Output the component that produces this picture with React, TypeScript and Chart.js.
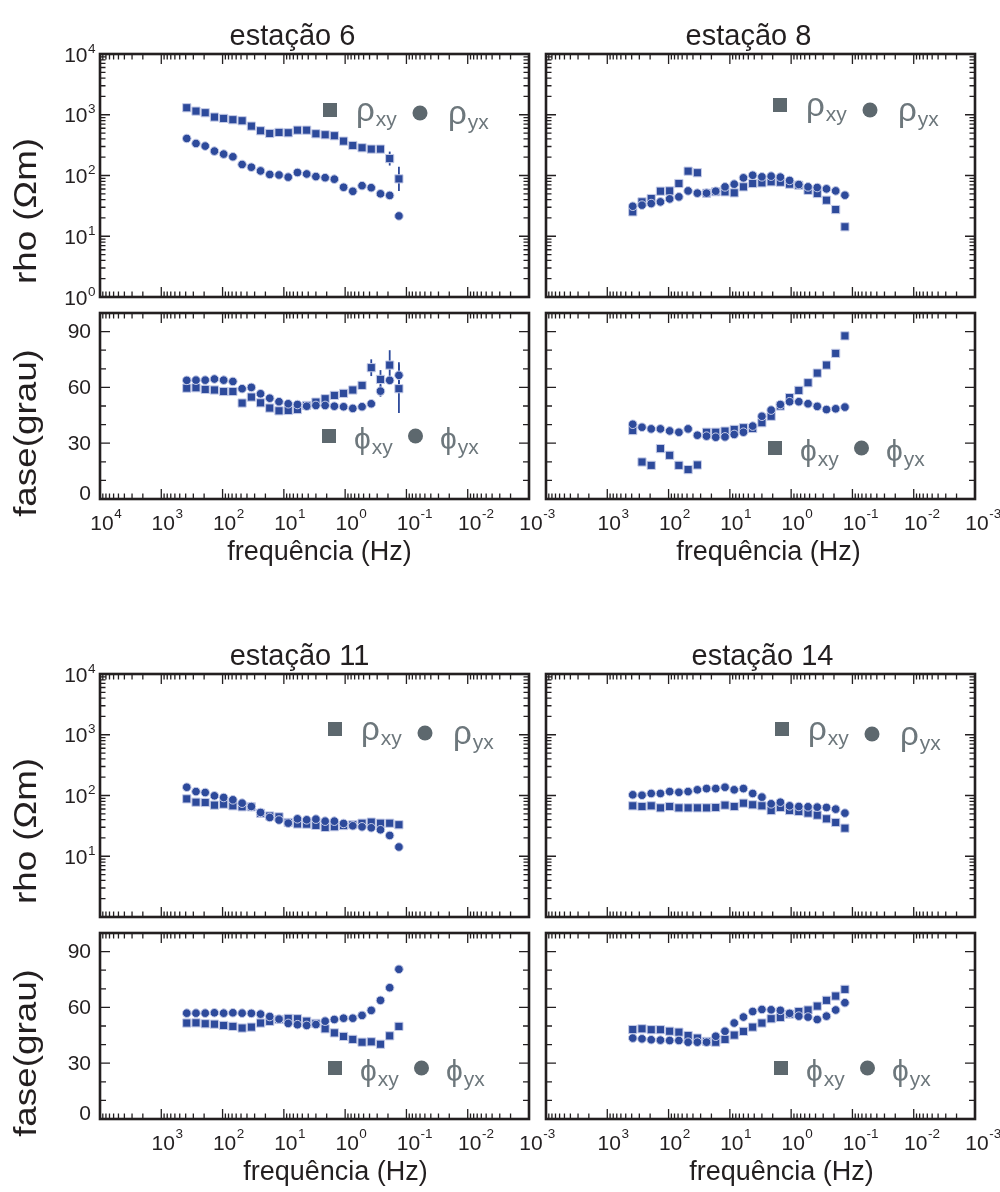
import React, { useEffect, useRef } from "react";
import { Chart, registerables } from "chart.js";

Chart.register(...registerables);

const PAGE_W = 1000;
const PAGE_H = 1192;
const FONT = '"Liberation Sans", Arial, Helvetica, sans-serif';
const INK = "#231f20";
const MARK = "#2d4a9b";
const MARK_EDGE = "#c7cde8";
const LEG_MARK = "#5d686e";
const LEG_TEXT = "#6d777c";

// ---------- data ----------
const freqs = [384, 271.5, 192, 135.8, 96, 67.9, 48, 33.9, 24, 17, 12, 8.49, 6, 4.24, 3, 2.12, 1.5, 1.06, 0.75, 0.53, 0.375, 0.265, 0.1875, 0.1326];

const xTickExps = [4, 3, 2, 1, 0, -1, -2, -3];
const rhoTickExps = [0, 1, 2, 3, 4];
const phaseTickLabels = [0, 30, 60, 90];

// estação 6
const st6RhoXY = [1303, 1148, 1079, 916, 871, 828, 796, 650, 545, 492, 512, 505, 558, 558, 486, 468, 451, 368, 312, 286, 272, 272, 190, 88];
const st6RhoYX = [407, 337, 305, 252, 225, 203, 152, 137, 119, 104, 102, 94, 112, 106, 96, 92, 87, 64, 55, 68, 63, 50, 47, 21.6];
const st6RhoXYErr = [0, 0, 0, 0, 0, 0, 0, 0, 0, 0, 0, 0, 0, 0, 0, 0, 0, 0, 0, 0, 0, 0, 0.115, 0.2];
const st6PhiXY = [59.6, 59.8, 58.9, 58.6, 57.8, 57.8, 51.6, 54.8, 51.7, 48.9, 47.4, 47.6, 48.1, 50.3, 52.1, 53.9, 55.7, 56.8, 58.6, 61.1, 70.6, 64.3, 72.0, 59.3];
const st6PhiYX = [63.8, 63.9, 63.9, 64.5, 63.9, 63.2, 59.3, 60.0, 56.6, 54.2, 52.3, 51.2, 50.8, 49.9, 50.3, 50.3, 49.9, 49.6, 48.7, 49.6, 51.2, 58.0, 63.8, 66.5];
const st6PhiXYErr = [0, 0, 0, 0, 0, 0, 0, 0, 0, 0, 0, 0, 0, 0, 0, 0, 0, 0, 0, 0, 4.5, 5, 8, 13];
const st6PhiYXErr = [0, 0, 0, 0, 0, 0, 0, 0, 0, 0, 0, 0, 0, 0, 0, 0, 0, 0, 0, 0, 0, 3, 0, 7];

// estação 8
const st8RhoXY = [25.2, 36.8, 41.8, 55.2, 55.8, 73.8, 118, 111, 51, 54, 53.8, 51.8, 65, 73.8, 75.7, 78.7, 77.6, 72, 69, 57, 50.5, 39.2, 27.5, 14.3];
const st8RhoYX = [31.2, 32.5, 34.5, 36.8, 41.2, 44.5, 55.8, 51.2, 51.2, 55.2, 65, 72, 91.5, 101, 95, 97.5, 94, 82.8, 71, 65, 63.4, 60.3, 55.8, 47.4];
const st8PhiXY = [36.8, 19.9, 18.1, 27.1, 23.5, 18.1, 15.8, 18.3, 35.9, 35.9, 36.5, 37.4, 38.3, 37.9, 41.0, 44.5, 50, 54.5, 58.4, 62.5, 67.7, 72.0, 78.3, 87.7];
const st8PhiYX = [40.2, 38.6, 37.7, 37.7, 36.6, 35.9, 37.7, 34.3, 33.8, 33.2, 33.4, 34.7, 35.9, 39.2, 44.5, 47.8, 50.8, 52.3, 52.3, 51.2, 49.8, 48.1, 48.5, 49.4];

// estação 11
const st11RhoXY = [88, 77.6, 76.7, 69.4, 72, 67.6, 65.1, 65, 51, 46, 44.5, 36, 34, 33.8, 32.2, 29.8, 30.6, 32, 33, 35, 36.5, 35, 35, 33];
const st11RhoYX = [137, 116, 112, 98.8, 92.7, 84.9, 74.8, 65.9, 52.6, 43.5, 39.4, 35.1, 41.3, 39.8, 40.8, 37.8, 37.8, 34.7, 31.7, 30.5, 29.4, 27.3, 22, 14.2];
const st11PhiXY = [51.6, 51.7, 51.2, 51.0, 50.3, 49.8, 48.9, 49.4, 51.6, 52.5, 53.5, 54.1, 53.9, 52.6, 51.4, 48.5, 46.3, 44.4, 42.8, 41.3, 41.5, 40.2, 44.7, 49.8];
const st11PhiYX = [56.9, 56.9, 56.9, 57.1, 56.9, 57.1, 56.9, 56.8, 56.4, 55.1, 53.7, 51.4, 50.7, 50.3, 50.8, 52.6, 53.5, 54.2, 54.2, 55.7, 58.4, 63.8, 70.6, 80.5];

// estação 14
const st14RhoXY = [67.6, 65.9, 67.6, 62.6, 65.9, 62.6, 62.6, 62.6, 62.6, 63.5, 69.4, 65.9, 74.8, 70.3, 67.6, 56.6, 63.5, 56.6, 54.6, 51.3, 47.5, 41.3, 36, 29];
const st14RhoYX = [102.6, 101, 108, 108, 116, 113, 116, 124, 130, 130, 137, 124, 130, 108, 94, 73, 77.6, 67.6, 65.9, 65.2, 64.3, 63.5, 59.6, 51.3];
const st14PhiXY = [48.1, 48.5, 48.0, 48.0, 47.2, 46.7, 44.9, 43.5, 41.7, 41.3, 42.8, 45.1, 47.1, 49.4, 51.6, 53.9, 54.6, 56.4, 57.8, 58.6, 60.7, 63.8, 66.1, 69.7];
const st14PhiYX = [43.5, 43.1, 42.6, 42.4, 42.2, 42.2, 41.3, 41.3, 41.3, 44.5, 47.2, 51.6, 54.8, 57.8, 58.9, 58.7, 58.4, 56.8, 55.3, 54.8, 53.5, 55.3, 58.6, 62.5];

// ---------- layout ----------
type Panel = {
  kind: "rho" | "phi";
  box: number[]; // left, top, right, bottom
  xy: number[];
  yx: number[];
  xyErr?: number[];
  yxErr?: number[];
  yLabels: number[] | null;
  xLabels: number[] | null;
  title?: string;
  titleDx?: number;
  yTitle?: string;
  xTitle?: string;
  xTitleDx?: number;
  legend: number[]; // dx, dy from box corner, circle dy
};

const PANELS: Panel[] = [
  { kind: "rho", box: [100, 54, 529, 297], xy: st6RhoXY, yx: st6RhoYX, xyErr: st6RhoXYErr, yLabels: rhoTickExps, xLabels: null, title: "estação 6", titleDx: -22, yTitle: "rho (Ωm)", legend: [230, 56, 3] },
  { kind: "phi", box: [100, 313, 529, 499], xy: st6PhiXY, yx: st6PhiYX, xyErr: st6PhiXYErr, yxErr: st6PhiYXErr, yLabels: phaseTickLabels, xLabels: xTickExps, yTitle: "fase(grau)", xTitle: "frequência (Hz)", xTitleDx: 5, legend: [229, 123, 0] },
  { kind: "rho", box: [546, 54, 975, 297], xy: st8RhoXY, yx: st8RhoYX, yLabels: null, xLabels: null, title: "estação 8", titleDx: -12, legend: [234, 51, 5] },
  { kind: "phi", box: [546, 313, 975, 499], xy: st8PhiXY, yx: st8PhiYX, yLabels: null, xLabels: xTickExps.slice(1), xTitle: "frequência (Hz)", xTitleDx: 8, legend: [229, 135, 0] },
  { kind: "rho", box: [100, 674, 529, 917], xy: st11RhoXY, yx: st11RhoYX, yLabels: rhoTickExps.slice(1), xLabels: null, title: "estação 11", titleDx: -15, yTitle: "rho (Ωm)", legend: [235, 55, 4] },
  { kind: "phi", box: [100, 933, 529, 1119], xy: st11PhiXY, yx: st11PhiYX, yLabels: phaseTickLabels, xLabels: xTickExps.slice(1), yTitle: "fase(grau)", xTitle: "frequência (Hz)", xTitleDx: 21, legend: [235, 135, 0] },
  { kind: "rho", box: [546, 674, 975, 917], xy: st14RhoXY, yx: st14RhoYX, yLabels: null, xLabels: null, title: "estação 14", titleDx: 2, legend: [236, 55, 5] },
  { kind: "phi", box: [546, 933, 975, 1119], xy: st14PhiXY, yx: st14PhiYX, yLabels: null, xLabels: xTickExps.slice(1), xTitle: "frequência (Hz)", xTitleDx: 21, legend: [235, 135, 0] },
];

const TICK_FONT = `21px ${FONT}`;
const SUP_FONT = `13.5px ${FONT}`;

function drawPow(ctx: CanvasRenderingContext2D, exp: number, x: number, baseline: number, supBaseline: number, align: "right" | "center") {
  const base = "10";
  const e = String(exp);
  ctx.font = TICK_FONT;
  const wb = ctx.measureText(base).width;
  ctx.font = SUP_FONT;
  const we = ctx.measureText(e).width;
  const x0 = align === "right" ? x - wb - we : x - wb / 2;
  ctx.textAlign = "left";
  ctx.textBaseline = "alphabetic";
  ctx.font = TICK_FONT;
  ctx.fillText(base, x0, baseline);
  ctx.font = SUP_FONT;
  ctx.fillText(e, x0 + wb + 0.5, supBaseline);
}

function drawLegend(ctx: CanvasRenderingContext2D, p: Panel, left: number, top: number) {
  const [dx, dy, cdy] = p.legend;
  const sx = left + dx;
  const sy = top + dy;
  const isRho = p.kind === "rho";
  const sym = isRho ? "ρ" : "ϕ";
  ctx.fillStyle = LEG_MARK;
  ctx.fillRect(sx - 7, sy - 7, 14, 14);
  const cx = sx + (isRho ? 90 : 86.5);
  ctx.beginPath();
  ctx.arc(cx, sy + cdy, 7.5, 0, Math.PI * 2);
  ctx.fill();
  ctx.fillStyle = LEG_TEXT;
  ctx.textAlign = "left";
  ctx.textBaseline = "alphabetic";
  const bigFont = isRho ? `33px ${FONT}` : `30px ${FONT}`;
  const bigBase = isRho ? 11 : 13;
  const subBase = isRho ? 16 : 18;
  const groups: [number, string, number][] = [
    [sx + (isRho ? 26 : 25), "xy", 0],
    [sx + (isRho ? 118 : 111), "yx", cdy],
  ];
  for (const [gx, sub, gdy] of groups) {
    ctx.font = bigFont;
    ctx.fillText(sym, gx, sy + bigBase + gdy);
    const w = ctx.measureText(sym).width;
    ctx.font = `21px ${FONT}`;
    ctx.fillText(sub, gx + w + 1, sy + subBase + gdy);
  }
}

function makePlugin(p: Panel) {
  return {
    id: "panelDeco",
    beforeDatasetsDraw(chart: any) {
      const ctx: CanvasRenderingContext2D = chart.ctx;
      const xs = chart.scales.x;
      const ys = chart.scales.y;
      ctx.save();
      ctx.strokeStyle = MARK;
      ctx.lineWidth = 1.8;
      chart.data.datasets.forEach((ds: any) => {
        if (!ds.yErr) return;
        ds.data.forEach((pt: any, i: number) => {
          const e = ds.yErr[i];
          if (!e) return;
          const px = xs.getPixelForValue(pt.x);
          const lo = p.kind === "rho" ? pt.y / Math.pow(10, e) : pt.y - e;
          const hi = p.kind === "rho" ? pt.y * Math.pow(10, e) : pt.y + e;
          ctx.beginPath();
          ctx.moveTo(px, ys.getPixelForValue(lo));
          ctx.lineTo(px, ys.getPixelForValue(hi));
          ctx.stroke();
        });
      });
      ctx.restore();
    },
    afterDraw(chart: any) {
      const ctx: CanvasRenderingContext2D = chart.ctx;
      const a = chart.chartArea;
      const xs = chart.scales.x;
      const ys = chart.scales.y;
      ctx.save();
      ctx.strokeStyle = INK;
      ctx.lineWidth = 1.3;
      ctx.beginPath();
      // x ticks (top & bottom, inward)
      for (let d = -3; d <= 4; d++) {
        for (let k = 1; k <= 9; k++) {
          const v = k * Math.pow(10, d);
          if (v > 10000.001) continue;
          const px = xs.getPixelForValue(v);
          const len = k === 1 ? 10 : 5.5;
          ctx.moveTo(px, a.bottom);
          ctx.lineTo(px, a.bottom - len);
          ctx.moveTo(px, a.top);
          ctx.lineTo(px, a.top + len);
        }
      }
      // y ticks (left & right, inward)
      if (p.kind === "rho") {
        for (let d = 0; d <= 4; d++) {
          for (let k = 1; k <= 9; k++) {
            const v = k * Math.pow(10, d);
            if (v > 10000.001) continue;
            const py = ys.getPixelForValue(v);
            const len = k === 1 ? 10 : 5.5;
            ctx.moveTo(a.left, py);
            ctx.lineTo(a.left + len, py);
            ctx.moveTo(a.right, py);
            ctx.lineTo(a.right - len, py);
          }
        }
      } else {
        for (let v = 10; v <= 90; v += 10) {
          const py = ys.getPixelForValue(v);
          const len = v % 30 === 0 ? 10 : 6;
          ctx.moveTo(a.left, py);
          ctx.lineTo(a.left + len, py);
          ctx.moveTo(a.right, py);
          ctx.lineTo(a.right - len, py);
        }
      }
      ctx.stroke();
      // frame
      ctx.lineWidth = 2.6;
      ctx.strokeRect(a.left, a.top, a.right - a.left, a.bottom - a.top);

      ctx.fillStyle = INK;
      // y tick labels
      if (p.yLabels) {
        if (p.kind === "rho") {
          for (const ex of p.yLabels) {
            const py = ys.getPixelForValue(Math.pow(10, ex));
            drawPow(ctx, ex, a.left - 5, py + 7.5, py - 1.5, "right");
          }
        } else {
          ctx.font = TICK_FONT;
          ctx.textAlign = "right";
          ctx.textBaseline = "middle";
          for (const v of p.yLabels) {
            const py = ys.getPixelForValue(v) + (v === 0 ? -6 : 0);
            ctx.fillText(String(v), a.left - 9, py + 1);
          }
        }
      }
      // x tick labels
      if (p.xLabels) {
        for (const ex of p.xLabels) {
          const px = xs.getPixelForValue(Math.pow(10, ex));
          drawPow(ctx, ex, px + 2, a.bottom + 30.5, a.bottom + 19, "center");
        }
      }
      // titles
      if (p.title) {
        ctx.font = `29px ${FONT}`;
        ctx.textAlign = "center";
        ctx.textBaseline = "alphabetic";
        ctx.fillText(p.title, (a.left + a.right) / 2 + (p.titleDx || 0), a.top - 9);
      }
      if (p.xTitle) {
        ctx.font = `27px ${FONT}`;
        ctx.textAlign = "center";
        ctx.textBaseline = "alphabetic";
        ctx.fillText(p.xTitle, (a.left + a.right) / 2 + (p.xTitleDx || 0), a.bottom + 61);
      }
      if (p.yTitle) {
        const cy = p.kind === "rho" ? a.top + 157 : a.top + 120;
        ctx.save();
        ctx.translate(36, cy);
        ctx.rotate(-Math.PI / 2);
        ctx.scale(1.15, 1);
        ctx.font = `32px ${FONT}`;
        ctx.textAlign = "center";
        ctx.textBaseline = "alphabetic";
        ctx.fillText(p.yTitle, 0, 0);
        ctx.restore();
      }
      drawLegend(ctx, p, a.left, a.top);
      ctx.restore();
    },
  };
}

function PanelChart({ p }: { p: Panel }) {
  const ref = useRef<HTMLCanvasElement>(null);
  useEffect(() => {
    const [L, T, R, B] = p.box;
    const chart = new Chart(ref.current as HTMLCanvasElement, {
      type: "scatter",
      data: {
        datasets: [
          {
            label: "yx",
            data: freqs.map((f, i) => ({ x: f, y: p.yx[i] })),
            pointStyle: "circle",
            pointRadius: 4.3,
            backgroundColor: MARK,
            borderColor: MARK_EDGE,
            borderWidth: 1,
            yErr: p.yxErr,
          } as any,
          {
            label: "xy",
            data: freqs.map((f, i) => ({ x: f, y: p.xy[i] })),
            pointStyle: "rect",
            pointRadius: 5.8,
            backgroundColor: MARK,
            borderColor: MARK_EDGE,
            borderWidth: 1,
            yErr: p.xyErr,
          } as any,
        ],
      },
      options: {
        animation: false,
        responsive: false,
        devicePixelRatio: 1,
        events: [],
        layout: { padding: { left: L, top: T, right: PAGE_W - R, bottom: PAGE_H - B } },
        plugins: { legend: { display: false }, tooltip: { enabled: false } },
        scales: {
          x: { type: "logarithmic", min: 1e-3, max: 1e4, reverse: true, display: false },
          y:
            p.kind === "rho"
              ? { type: "logarithmic", min: 1, max: 1e4, display: false }
              : { type: "linear", min: 0, max: 100, display: false },
        },
      } as any,
      plugins: [makePlugin(p)],
    });
    return () => chart.destroy();
  }, [p]);
  return (
    <canvas
      ref={ref}
      width={PAGE_W}
      height={PAGE_H}
      style={{ position: "absolute", left: 0, top: 0, width: PAGE_W, height: PAGE_H }}
    />
  );
}

export default function App() {
  return (
    <div style={{ position: "absolute", left: 0, top: 0, width: PAGE_W, height: PAGE_H, background: "#fff" }}>
      {PANELS.map((p, i) => (
        <PanelChart key={i} p={p} />
      ))}
    </div>
  );
}
